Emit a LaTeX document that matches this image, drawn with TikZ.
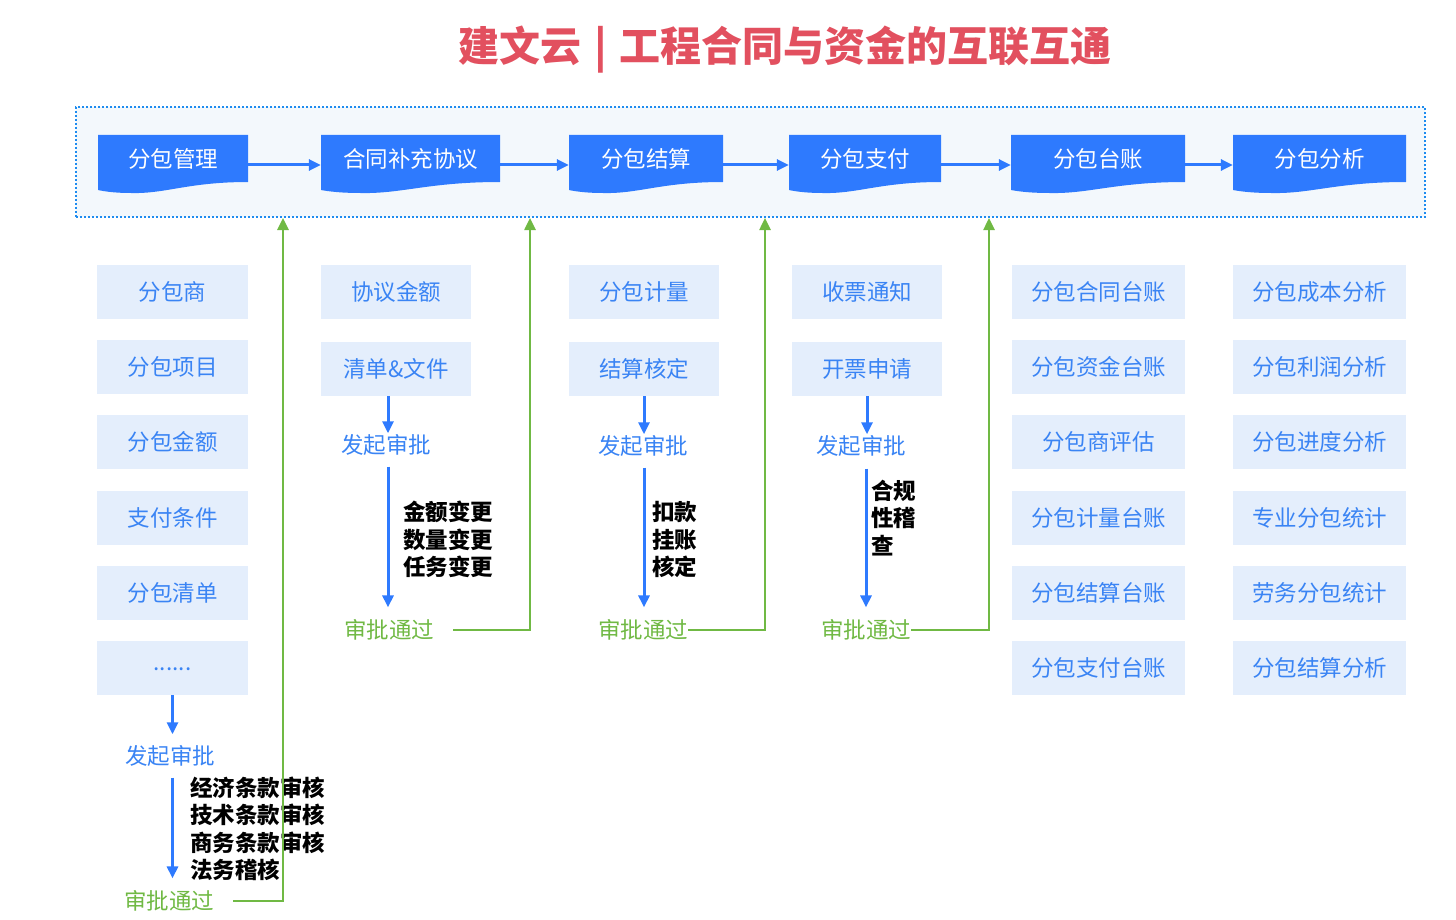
\documentclass[tikz,border=0pt]{standalone}
\usepackage{fontspec}
\setmainfont{Noto Sans CJK SC}
\usetikzlibrary{arrows.meta}
\definecolor{titlered}{HTML}{E2505F}
\definecolor{topblue}{HTML}{2E7AFE}
\definecolor{lightbg}{HTML}{E4EEFC}
\definecolor{lbtext}{HTML}{3A84F4}
\definecolor{framebg}{HTML}{F3F8FC}
\definecolor{framebd}{HTML}{1E8CF0}
\definecolor{okgreen}{HTML}{70B944}
\newcommand\docshape[4]{%
  \fill[topblue] (#2,135) -- (#3,135) -- (#3,182)
    .. controls ({#2+0.6*(#3-#2)},182) and ({#2+0.45*(#3-#2)},194) .. ({#2+0.22*(#3-#2)},193)
    .. controls ({#2+0.1*(#3-#2)},193) and ({#2+0.03*(#3-#2)},191) .. (#2,190) -- cycle;
  \node[toplbl, minimum width={(#3-#2)*1pt}] (#1) at ({(#2+#3)/2},158.5) {#4};
}
\begin{document}
\begin{tikzpicture}[x=1pt,y=-1pt,
  toplbl/.style={text=white, font=\fontsize{22.5}{27}\selectfont, inner sep=0pt, minimum height=47},
  lbox/.style={fill=lightbg, text=lbtext, font=\fontsize{22.5}{27}\selectfont, inner sep=0pt, minimum height=54},
  bluelbl/.style={text=lbtext, font=\fontsize{22.5}{27}\selectfont, inner sep=0pt},
  greenlbl/.style={text=okgreen, font=\fontsize{22.5}{27}\selectfont, inner sep=0pt},
  blacklbl/.style={text=black, font=\fontsize{22.5}{27.5}\selectfont\bfseries, inner sep=0pt, align=left, anchor=west},
  tarrow/.style={draw=topblue, line width=3pt, -{Triangle[width=11pt,length=12pt]}},
  barrow/.style={draw=topblue, line width=3pt, -{Triangle[width=11pt,length=12pt]}},
  garrow/.style={draw=okgreen, line width=2.5pt, -{Triangle[width=11pt,length=12pt]}}]
\useasboundingbox (0,0) rectangle (1456,920);

% title
\node[text=titlered, font=\fontsize{41}{48}\selectfont\bfseries, inner sep=0pt] (title) at (785,50) {建文云\hspace{12.5pt}|\hspace{12.5pt}工程合同与资金的互联互通};

% frame
\node[fill=framebg, draw=framebd, line width=2pt, dash pattern=on 2pt off 2pt, minimum width=1349, minimum height=110, inner sep=0pt] (frame) at (750.5,162) {};

% top boxes
\docshape{b1}{98}{248}{分包管理}
\docshape{b2}{321}{500}{合同补充协议}
\docshape{b3}{569}{723}{分包结算}
\docshape{b4}{789}{941}{分包支付}
\docshape{b5}{1011}{1185}{分包台账}
\docshape{b6}{1233}{1406}{分包分析}
\draw[tarrow] ([yshift=-6.5pt]b1.east) -- ([yshift=-6.5pt]b2.west);
\draw[tarrow] ([yshift=-6.5pt]b2.east) -- ([yshift=-6.5pt]b3.west);
\draw[tarrow] ([yshift=-6.5pt]b3.east) -- ([yshift=-6.5pt]b4.west);
\draw[tarrow] ([yshift=-6.5pt]b4.east) -- ([yshift=-6.5pt]b5.west);
\draw[tarrow] ([yshift=-6.5pt]b5.east) -- ([yshift=-6.5pt]b6.west);

% column 1
\node[lbox, minimum width=151] (a1) at (172.5,292) {分包商};
\node[lbox, minimum width=151] (a2) at (172.5,367) {分包项目};
\node[lbox, minimum width=151] (a3) at (172.5,442) {分包金额};
\node[lbox, minimum width=151] (a4) at (172.5,517.5) {支付条件};
\node[lbox, minimum width=151] (a5) at (172.5,593) {分包清单};
\node[lbox, minimum width=151] (a6) at (172.5,668) {\raisebox{-5pt}{......}};
\node[bluelbl] (fq1) at (170,756) {发起审批};
\node[blacklbl] (t1) at (190,829) {经济条款审核\\技术条款审核\\商务条款审核\\法务稽核};
\node[greenlbl] (ok1) at (169,901) {审批通过};
\draw[barrow, shorten >=11pt] (a6.south) -- (a6.south |- fq1.north);
\draw[barrow, shorten <=11pt, shorten >=12pt] (a6.south |- fq1.south) -- (a6.south |- ok1.north);

% column 2
\node[lbox, minimum width=150] (c1) at (396,292) {协议金额};
\node[lbox, minimum width=150] (c2) at (396,369) {清单\&文件};
\node[bluelbl] (fq2) at (386,445) {发起审批};
\node[blacklbl] (t2) at (403,539.5) {金额变更\\数量变更\\任务变更};
\node[greenlbl] (ok2) at (389,630) {审批通过};
\draw[barrow, shorten >=1pt] ([xshift=-8pt]c2.south) -- ([xshift=-8pt]c2.south |- fq2.north);
\draw[barrow, shorten <=11pt, shorten >=12pt] ([xshift=-8pt]c2.south |- fq2.south) -- ([xshift=-8pt]c2.south |- ok2.north);

% column 3
\node[lbox, minimum width=150] (d1) at (644,292) {分包计量};
\node[lbox, minimum width=150] (d2) at (644,369) {结算核定};
\node[bluelbl] (fq3) at (643,446) {发起审批};
\node[blacklbl] (t3) at (652,539.5) {扣款\\挂账\\核定};
\node[greenlbl] (ok3) at (643,630) {审批通过};
\draw[barrow, shorten >=1pt] (d2.south) -- (d2.south |- fq3.north);
\draw[barrow, shorten <=11pt, shorten >=12pt] (d2.south |- fq3.south) -- (d2.south |- ok3.north);

% column 4
\node[lbox, minimum width=150] (e1) at (867,292) {收票通知};
\node[lbox, minimum width=150] (e2) at (867,369) {开票申请};
\node[bluelbl] (fq4) at (861,446) {发起审批};
\node[blacklbl] (t4) at (871,518) {合规\\性稽\\查};
\node[greenlbl] (ok4) at (866,630) {审批通过};
\draw[barrow, shorten >=1pt] (e2.south) -- (e2.south |- fq4.north);
\draw[barrow, shorten <=12pt, shorten >=12pt] ([xshift=-1pt]e2.south |- fq4.south) -- ([xshift=-1pt]e2.south |- ok4.north);

% column 5
\node[lbox, minimum width=173] (f1) at (1098.5,292) {分包合同台账};
\node[lbox, minimum width=173] (f2) at (1098.5,367) {分包资金台账};
\node[lbox, minimum width=173] (f3) at (1098.5,442) {分包商评估};
\node[lbox, minimum width=173] (f4) at (1098.5,517.5) {分包计量台账};
\node[lbox, minimum width=173] (f5) at (1098.5,593) {分包结算台账};
\node[lbox, minimum width=173] (f6) at (1098.5,668) {分包支付台账};

% column 6
\node[lbox, minimum width=173] (h1) at (1319.5,292) {分包成本分析};
\node[lbox, minimum width=173] (h2) at (1319.5,367) {分包利润分析};
\node[lbox, minimum width=173] (h3) at (1319.5,442) {分包进度分析};
\node[lbox, minimum width=173] (h4) at (1319.5,517.5) {专业分包统计};
\node[lbox, minimum width=173] (h5) at (1319.5,593) {劳务分包统计};
\node[lbox, minimum width=173] (h6) at (1319.5,668) {分包结算分析};

% green return connectors
\coordinate (g1) at (283,218);
\coordinate (g2) at (530,218);
\coordinate (g3) at (765,218);
\coordinate (g4) at (989,218);
\draw[garrow] ([xshift=19pt]ok1.east) -| (g1);
\draw[garrow] ([xshift=19pt]ok2.east) -| (g2);
\draw[garrow] (ok3.east) -| (g3);
\draw[garrow] (ok4.east) -| (g4);
\end{tikzpicture}
\end{document}
